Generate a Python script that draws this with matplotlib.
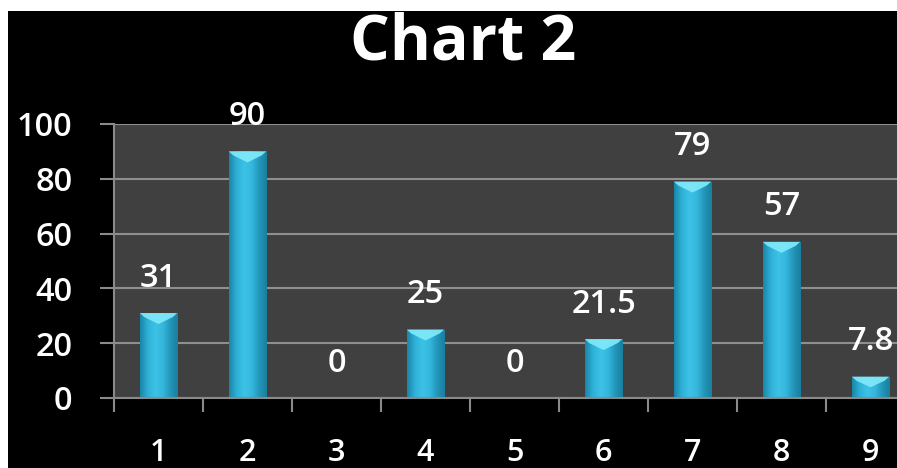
import numpy as np
import matplotlib
matplotlib.use("Agg")
import matplotlib.pyplot as plt
from matplotlib.patches import Rectangle, Polygon
from matplotlib.colors import LinearSegmentedColormap

categories = ["1", "2", "3", "4", "5", "6", "7", "8", "9"]
values = [31, 90, 0, 25, 0, 21.5, 79, 57, 7.8]
value_labels = ["31", "90", "0", "25", "0", "21.5", "79", "57", "7.8"]
yticks = [0, 20, 40, 60, 80, 100]
title = "Chart 2"

plt.rcParams['font.family'] = ['Open Sans', 'DejaVu Sans']
LW = "semibold"

W, H = 897, 468
fig = plt.figure(figsize=(W / 100, H / 100), dpi=100, facecolor="white")
fig.patches.append(Rectangle((8 / W, 0), 1 - 8 / W, (H - 11) / H,
                             transform=fig.transFigure, facecolor="black",
                             edgecolor="none", zorder=-10))

left, right, bottom, top = 114, 915, 398, 124
ax = fig.add_axes([left / W, (H - bottom) / H, (right - left) / W, (bottom - top) / H])
ax.set_facecolor("#404040")
ax.set_xlim(0.5, len(categories) + 0.5)
ax.set_ylim(0, 100)

for sp in ["top", "right"]:
    ax.spines[sp].set_visible(False)
for sp in ["left", "bottom"]:
    ax.spines[sp].set_color("#8a8a8a")
    ax.spines[sp].set_linewidth(1.5)

ax.set_yticks(yticks)
ax.set_yticklabels([str(t) for t in yticks], fontweight=LW)
ax.tick_params(axis="y", colors="#8a8a8a", labelcolor="white", labelsize=23.5,
               length=10, width=1.5, pad=20)
ax.yaxis.grid(True, color="#8f8f8f", linewidth=1.5)
ax.set_axisbelow(True)

x = np.arange(1, len(categories) + 1)
ax.set_xticks(np.arange(0.5, len(categories) + 1.5, 1.0))
ax.set_xticklabels([])
ax.tick_params(axis="x", which="major", colors="#8a8a8a", length=10, width=1.5)
ax.set_xticks(x, minor=True)
ax.set_xticklabels(categories, minor=True, fontweight=LW)
ax.tick_params(axis="x", which="minor", length=0, labelcolor="white",
               labelsize=22, pad=29)

cmap = LinearSegmentedColormap.from_list(
    "bar", ["#1a86a8", "#2fb0d6", "#3cc2e6", "#36b8de", "#2396ba", "#1a7f9e"])
grad = np.linspace(0, 1, 64).reshape(1, -1)

bw = 0.42
px_per_unit = (bottom - top) / 100.0
for xi, v, lab in zip(x, values, value_labels):
    x0, x1 = xi - bw / 2, xi + bw / 2
    if v > 0:
        rect = Rectangle((x0, 0), bw, v, facecolor="none", edgecolor="none")
        ax.add_patch(rect)
        im = ax.imshow(grad, cmap=cmap, aspect="auto", extent=(x0, x1, 0, v),
                       interpolation="bicubic", zorder=2)
        im.set_clip_path(rect)
        d1 = min(4.0 / px_per_unit, v * 0.3)
        d2 = min(11.0 / px_per_unit, v * 0.5)
        bevel = Polygon([(x0, v), (x1, v), (x1 - bw * 0.12, v - d1),
                         (xi, v - d2), (x0 + bw * 0.12, v - d1)],
                        closed=True, facecolor="#7de8f8", edgecolor="none",
                        alpha=0.95, zorder=3)
        ax.add_patch(bevel)
    ax.annotate(lab, (xi, v), xytext=(0, 19), textcoords="offset points",
                ha="center", va="baseline", color="white", fontsize=23.5,
                fontweight=LW, zorder=4, annotation_clip=False)

fig.text(463 / W, (H - 60) / H, title, ha="center", va="baseline",
         color="white", fontsize=45, fontweight="bold")

fig.savefig("out.png", dpi=100, facecolor=fig.get_facecolor())
